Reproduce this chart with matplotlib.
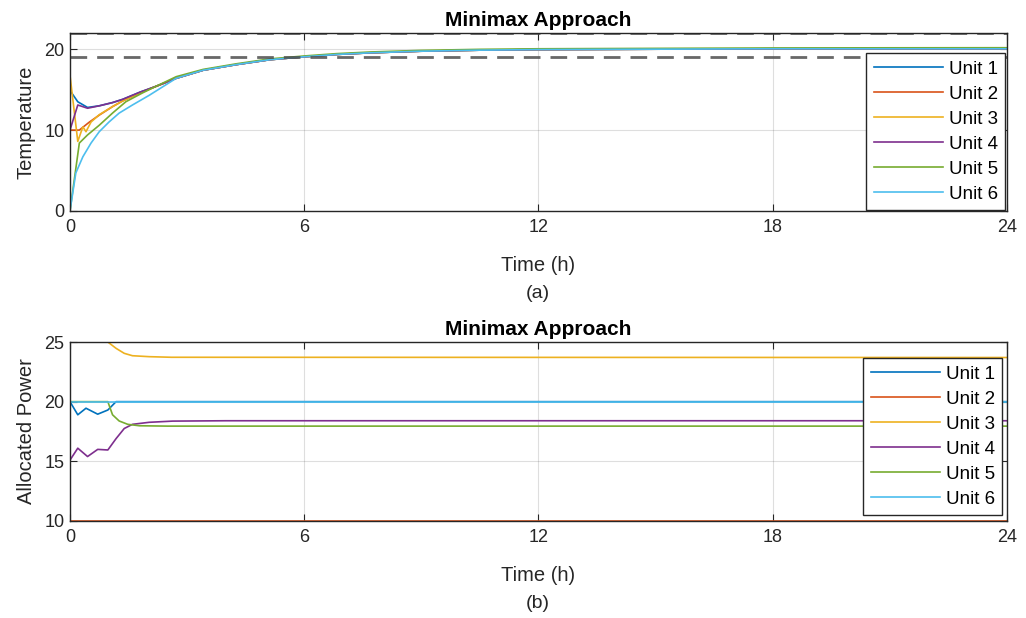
import matplotlib
matplotlib.use('Agg')
import matplotlib.pyplot as plt

plt.rcParams.update({
    'font.family': ['Liberation Sans', 'DejaVu Sans'],
    'font.size': 13,
    'axes.linewidth': 1.0,
    'xtick.direction': 'in', 'ytick.direction': 'in',
    'xtick.top': True, 'ytick.right': True,
    'xtick.major.size': 5, 'ytick.major.size': 5,
    'xtick.major.pad': 6, 'ytick.major.pad': 4,
    'xtick.labelsize': 13, 'ytick.labelsize': 13,
    'axes.edgecolor': '#262626',
    'xtick.color': '#262626', 'ytick.color': '#262626',
})

UNITS = ['Unit 1', 'Unit 2', 'Unit 3', 'Unit 4', 'Unit 5', 'Unit 6']
COLORS = ['#0072BD', '#D95319', '#EDB120', '#7E2F8E', '#77AC30', '#4DBEEE']
XTICKS = [0, 6, 12, 18, 24]

# --- (a) temperature, early transients per unit + common tail ---
TEMP_T = [
    [0, 0.2, 0.45, 0.75, 1.09, 1.35, 1.8, 2.2],
    [0, 0.24, 0.5, 0.75, 1.09, 1.35, 1.8, 2.2],
    [0, 0.2, 0.33, 0.41, 0.54, 0.75, 1.09, 1.35, 1.8, 2.2],
    [0, 0.2, 0.45, 0.75, 1.09, 1.35, 1.8, 2.2],
    [0, 0.24, 0.45, 0.75, 1.09, 1.43, 1.86, 2.2],
    [0, 0.07, 0.15, 0.33, 0.54, 0.75, 1.0, 1.26, 1.6, 2.03],
]
TEMP_V = [
    [14.9, 13.5, 12.8, 13.0, 13.4, 13.8, 14.7, 15.4],
    [10.0, 10.0, 11.0, 11.85, 12.9, 13.6, 14.6, 15.4],
    [16.8, 8.6, 10.4, 9.8, 11.0, 11.9, 12.9, 13.6, 14.6, 15.4],
    [10.0, 13.1, 12.7, 13.0, 13.4, 13.8, 14.7, 15.4],
    [0.0, 8.4, 9.4, 10.6, 12.1, 13.5, 14.6, 15.4],
    [0.0, 2.2, 4.7, 6.7, 8.4, 9.8, 11.0, 12.1, 13.1, 14.3],
]
TAIL_T = [2.72, 3.41, 4.27, 5.12, 5.97, 6.83, 7.68, 8.97, 10.5, 12, 15, 18, 21, 24]
TAIL_V = [16.4, 17.4, 18.1, 18.7, 19.05, 19.35, 19.55, 19.75, 19.88, 19.95, 20.0, 20.05, 20.05, 20.05]
TAIL_V_U5 = [16.6, 17.5, 18.2, 18.8, 19.15, 19.45, 19.65, 19.85, 19.98, 20.05, 20.1, 20.15, 20.17, 20.18]
TEMP_BOUNDS = [22, 19]

# --- (b) allocated power ---
POW_T = [
    [0, 0.2, 0.41, 0.71, 0.97, 1.18, 24],
    [0, 24],
    [0, 0.97, 1.18, 1.39, 1.6, 2.03, 2.6, 24],
    [0, 0.2, 0.45, 0.71, 0.97, 1.18, 1.39, 1.6, 2.03, 2.63, 4, 24],
    [0, 0.97, 1.09, 1.26, 1.48, 1.78, 2.5, 24],
    [0, 24],
]
POW_V = [
    [20, 18.9, 19.45, 18.95, 19.3, 20, 20],
    [10, 10],
    [25, 25, 24.47, 24.05, 23.85, 23.77, 23.72, 23.7],
    [15.1, 16.1, 15.4, 16.0, 15.95, 16.9, 17.75, 18.1, 18.27, 18.37, 18.4, 18.4],
    [20, 20, 18.9, 18.38, 18.1, 17.98, 17.95, 17.95],
    [20, 20],
]

fig = plt.figure(figsize=(10.26, 6.18), dpi=100)
ax1 = fig.add_axes([0.0682, 0.6586, 0.9133, 0.2880])
ax2 = fig.add_axes([0.0682, 0.1570, 0.9133, 0.2896])


def style(ax):
    ax.set_xlim(0, 24)
    ax.set_xticks(XTICKS)
    ax.grid(True, color='#262626', alpha=0.15, linewidth=0.8)
    ax.set_axisbelow(True)
    ax.set_xlabel('Time (h)', color='#262626', fontsize=14.5, labelpad=14)
    ax.set_title('Minimax Approach', fontweight='bold', fontsize=15, pad=5)


def legend(ax, **kw):
    ax.legend(borderaxespad=0, fancybox=False, edgecolor='#262626', framealpha=1,
              fontsize=13.5, handlelength=3.7, labelspacing=0.42, handletextpad=0.3,
              borderpad=0.4, **kw)


# top
for i in range(6):
    tail = TAIL_V_U5 if i == 4 else TAIL_V
    ax1.plot(TEMP_T[i] + TAIL_T, TEMP_V[i] + tail, color=COLORS[i], lw=1.2, label=UNITS[i])
for b in TEMP_BOUNDS:
    ax1.axhline(b, color='#4d4d4d', lw=2, ls=(0, (6, 3.6)), alpha=0.85)
ax1.set_ylim(0, 22)
ax1.set_yticks([0, 10, 20])
ax1.set_ylabel('Temperature', color='#262626', fontsize=14.5, labelpad=6)
style(ax1)
legend(ax1, loc='lower right', bbox_to_anchor=(0.998, 0.005))

# bottom
for i in range(6):
    ax2.plot(POW_T[i], POW_V[i], color=COLORS[i], lw=1.2, label=UNITS[i])
ax2.set_ylim(10, 25)
ax2.set_yticks([10, 15, 20, 25])
ax2.set_ylabel('Allocated Power', color='#262626', fontsize=14.5, labelpad=6)
style(ax2)
legend(ax2, loc='upper right', bbox_to_anchor=(0.995, 0.911))

fig.text(0.5245, 1 - 293 / 618, '(a)', ha='center', va='center', fontsize=14, color='#262626')
fig.text(0.5245, 1 - 603 / 618, '(b)', ha='center', va='center', fontsize=14, color='#262626')

plt.savefig('out.png', dpi=100)
plt.close()
